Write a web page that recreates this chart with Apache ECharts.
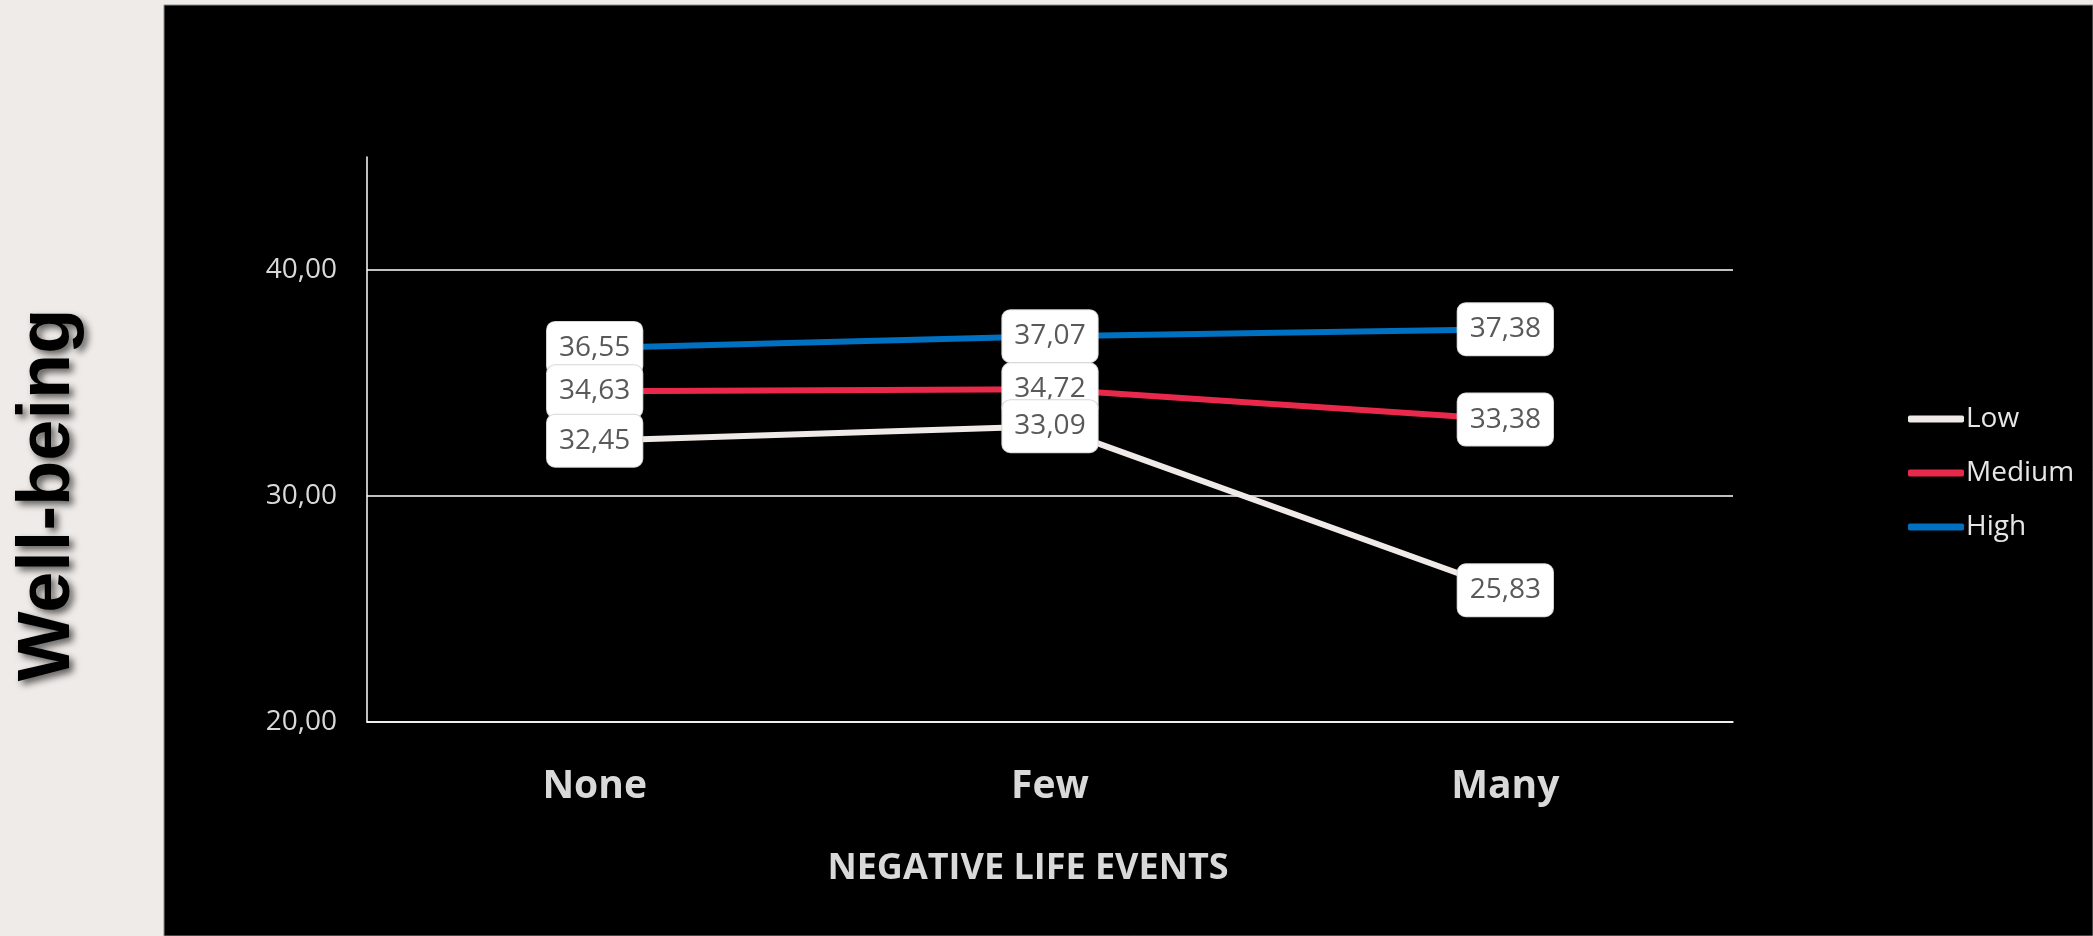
<!DOCTYPE html>
<html>
<head>
<meta charset="utf-8">
<title>Well-being by negative life events</title>
<script src="https://cdn.jsdelivr.net/npm/echarts@6/dist/echarts.min.js"></script>
<style>
  html, body { margin: 0; padding: 0; background: #EFEBE8; }
  #chart { width: 2093px; height: 936px; }
</style>
</head>
<body>
<div id="chart"></div>
<script>
// Categories on the x axis (amount of negative life events)
const categories = ['None', 'Few', 'Many'];

// Mean well-being per group
const lowValues = [32.45, 33.09, 25.83];
const mediumValues = [34.63, 34.72, 33.38];
const highValues = [36.55, 37.07, 37.38];

// Value-axis range and tick step
const yMin = 20;
const yMax = 45;
const yStep = 10;

const seriesNames = ['Low', 'Medium', 'High'];
const seriesColors = ['#EFEAE7', '#E9294B', '#0070C0'];

const fmt = v => Number(v).toFixed(2).replace('.', ',');

const chart = echarts.init(document.getElementById('chart'), null, { renderer: 'canvas' });

function lineSeries(name, values, color, z) {
  return {
    name: name,
    type: 'line',
    data: values,
    z: z,
    symbol: 'circle',
    symbolSize: 1,
    itemStyle: { color: color },
    lineStyle: { color: color, width: 6 },
    emphasis: { disabled: true },
    animation: false,
    label: {
      show: true,
      position: 'inside',
      formatter: p => fmt(p.value),
      fontFamily: 'Open Sans',
      fontSize: 28,
      color: '#595959',
      backgroundColor: '#FFFFFF',
      borderColor: '#D6D6D6',
      borderWidth: 1,
      borderRadius: 8,
      padding: [12, 12, 12, 12]
    }
  };
}

chart.setOption({
  backgroundColor: '#EFEBE8',
  animation: false,
  graphic: [
    {
      // dark plotting panel
      type: 'rect',
      silent: true,
      z: -10,
      shape: { x: 164, y: 5, width: 2093 - 164, height: 936 - 5 },
      style: { fill: '#000000', stroke: '#8C8C8C', lineWidth: 1 }
    },
    {
      // vertical value-axis caption with a soft drop shadow
      type: 'text',
      silent: true,
      x: 49,
      y: 495,
      rotation: Math.PI / 2,
      style: {
        text: 'Well-being',
        font: 'bold 74px "Liberation Sans", Arial, sans-serif',
        fill: '#000000',
        align: 'center',
        verticalAlign: 'middle',
        textShadowColor: 'rgba(0,0,0,0.6)',
        textShadowBlur: 7,
        textShadowOffsetX: 4,
        textShadowOffsetY: 4
      }
    }
  ],
  title: {
    text: 'NEGATIVE LIFE EVENTS',
    left: 1023,
    top: 846,
    textAlign: 'center',
    textStyle: {
      fontFamily: 'Open Sans',
      fontWeight: 'bold',
      fontSize: 36,
      color: '#D9D9D9'
    }
  },
  legend: {
    orient: 'vertical',
    left: 1903,
    top: 400,
    itemWidth: 56,
    itemHeight: 7,
    itemGap: 26,
    icon: 'roundRect',
    data: seriesNames,
    textStyle: {
      fontFamily: 'Open Sans',
      fontSize: 28,
      color: '#E6E6E6',
      padding: [0, 0, 0, -3]
    }
  },
  grid: {
    left: 367,
    right: 360,
    top: 157,
    bottom: 214,
    containLabel: false
  },
  xAxis: {
    type: 'category',
    data: categories,
    boundaryGap: true,
    axisLine: { show: true, lineStyle: { color: '#FFFFFF', width: 1.5 } },
    axisTick: { show: false },
    splitLine: { show: false },
    axisLabel: {
      margin: 45,
      fontFamily: 'Open Sans',
      fontWeight: 'bold',
      fontSize: 39,
      color: '#D9D9D9'
    }
  },
  yAxis: {
    type: 'value',
    min: yMin,
    max: yMax,
    interval: yStep,
    axisLine: { show: true, lineStyle: { color: '#FFFFFF', width: 1.5 } },
    axisTick: { show: false },
    splitLine: {
      show: true,
      showMaxLine: false,
      lineStyle: { color: '#FFFFFF', width: 1.5 }
    },
    axisLabel: {
      showMaxLabel: false,
      margin: 30,
      formatter: v => fmt(v),
      fontFamily: 'Open Sans',
      fontSize: 28,
      color: '#D9D9D9'
    }
  },
  series: [
    lineSeries(seriesNames[0], lowValues, seriesColors[0], 6),
    lineSeries(seriesNames[1], mediumValues, seriesColors[1], 5),
    lineSeries(seriesNames[2], highValues, seriesColors[2], 4)
  ]
});
</script>
</body>
</html>
